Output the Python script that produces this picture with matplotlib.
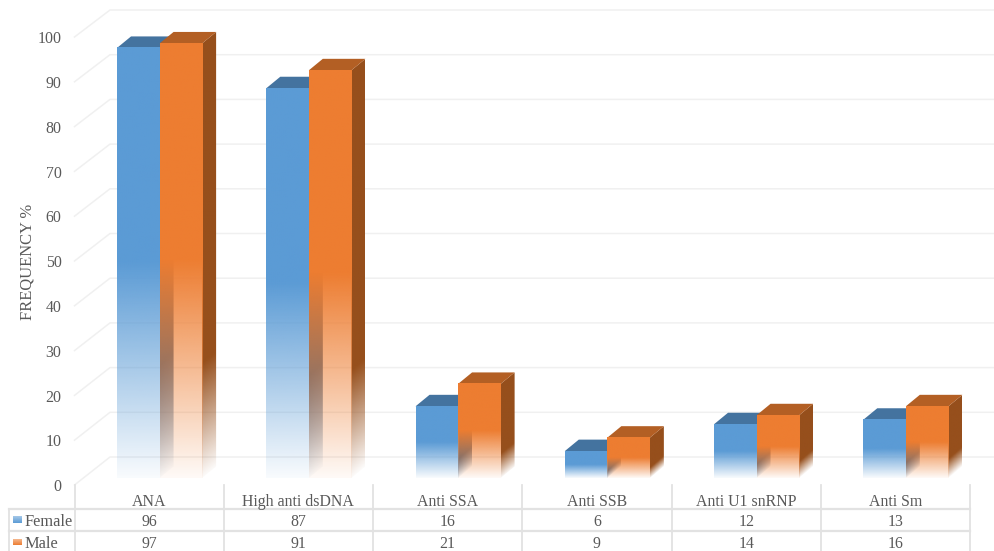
#!/usr/bin/env python3
"""Autoantibody frequency by sex: pseudo-3D columns with a data table below."""

import numpy as np
import matplotlib
matplotlib.use("Agg")
import matplotlib.pyplot as plt
from matplotlib.colors import to_rgb
from matplotlib.patches import Polygon

categories = ["ANA", "High anti dsDNA", "Anti SSA", "Anti SSB", "Anti U1 snRNP", "Anti Sm"]
female = [96, 87, 16, 6, 12, 13]
male = [97, 91, 21, 9, 14, 16]
y_ticks = [0, 10, 20, 30, 40, 50, 60, 70, 80, 90, 100]

W, H = 994, 551
CAT_LEFT, CAT_RIGHT = 74.5, 970.0
CAT_W = (CAT_RIGHT - CAT_LEFT) / len(categories)
BAR_BASE = 478.0          # pixel row of value 0 on the column plane
BAR_SCALE = 4.48          # pixels per percent on the column plane
BAR_OFFSET = 0.285        # gap before the first column, in category widths
BAR_W = 0.285
DEPTH_X, DEPTH_Y = 14.0, 11.5

GRID = "#f0f0f0"
TABLE = "#e2e2e2"
TEXT = "#595959"
SERIES = {
    "female": {"front": "#5b9bd5", "side": "#3d6a94", "top": "#44739f"},
    "male": {"front": "#ed7d31", "side": "#964f1c", "top": "#b35f24"},
}

plt.rcParams["font.family"] = ["Liberation Serif", "DejaVu Serif"]
plt.rcParams["font.size"] = 11.4

fig = plt.figure(figsize=(W / 100, H / 100), dpi=100)

# furniture layer, addressed in pixels
bg = fig.add_axes([0, 0, 1, 1])
bg.set_xlim(0, W)
bg.set_ylim(H, 0)
bg.axis("off")

for v in y_ticks:
    y_front = 485 - 4.48 * v
    y_back = 457 - 4.47 * v
    bg.plot([CAT_LEFT, 110, W], [y_front, y_back, y_back], color=GRID, lw=1.1, zorder=1)
    bg.text(61.5, y_front + 2.2, str(v), ha="right", va="center", color=TEXT)

bg.text(28, 262, "FREQUENCY %", rotation=90, ha="center", va="center", color=TEXT, fontsize=11.9)

# data table
for i in range(len(categories) + 1):
    x = CAT_LEFT + i * CAT_W
    bg.plot([x, x], [485, H], color=TABLE, lw=1.3, zorder=1)
bg.plot([8.5, 8.5], [509, H], color=TABLE, lw=1.3, zorder=1)
bg.plot([8.5, CAT_RIGHT], [509, 509], color=TABLE, lw=1.6, zorder=1)
bg.plot([8.5, CAT_RIGHT], [531, 531], color=TABLE, lw=1.6, zorder=1)

for i, name in enumerate(categories):
    x = CAT_LEFT + (i + 0.5) * CAT_W
    bg.text(x, 502, name, ha="center", va="center", color=TEXT)
    bg.text(x, 521.5, str(female[i]), ha="center", va="center", color=TEXT)
    bg.text(x, 543.5, str(male[i]), ha="center", va="center", color=TEXT)

# legend keys sit in the first table column
for top, bottom, key in [(516, 523, "female"), (539, 545, "male")]:
    shade = np.linspace(0.55, 1.0, 32)[:, None]
    key_img = np.ones((32, 1, 4))
    key_img[..., :3] = to_rgb(SERIES[key]["front"])
    key_img[..., 3] = shade
    bg.imshow(key_img, extent=[13, 21.5, top, bottom], origin="lower", aspect="auto", zorder=2)
bg.set_xlim(0, W)
bg.set_ylim(H, 0)
bg.text(24.5, 521.5, "Female", ha="left", va="center", color=TEXT, fontsize=11.8)
bg.text(24.5, 543.5, "Male", ha="left", va="center", color=TEXT, fontsize=11.8)

# column layer, addressed in categories and percent
ax = fig.add_axes([CAT_LEFT / W, 1 - BAR_BASE / H, (CAT_RIGHT - CAT_LEFT) / W, 105 * BAR_SCALE / H])
ax.patch.set_alpha(0)
ax.axis("off")

dx = DEPTH_X / CAT_W
dy = DEPTH_Y / BAR_SCALE


def fade_front(frac):
    # solid over the upper half, fading out towards the floor
    return np.clip(0.04 + 0.96 * frac / 0.5, 0, 1)


def fade_side(frac):
    return np.clip(0.03 + frac / 0.27, 0, 1)


def rgba_image(color, alpha):
    out = np.ones(alpha.shape + (4,))
    out[..., :3] = to_rgb(color)
    out[..., 3] = alpha
    return out


def draw_column(x0, value, colors, z):
    x1 = x0 + BAR_W

    # side face: fade follows the slanted floor edge
    rows = np.linspace(0, value + dy, 256)
    cols = np.linspace(0, 1, 24)
    uu, yy = np.meshgrid(cols, rows)
    side = ax.imshow(rgba_image(colors["side"], fade_side((yy - uu * dy) / value)),
                     extent=[x1, x1 + dx, 0, value + dy], origin="lower",
                     aspect="auto", interpolation="bilinear", zorder=z)
    clip = Polygon([(x1, 0), (x1 + dx, dy), (x1 + dx, value + dy), (x1, value)],
                   transform=ax.transData)
    side.set_clip_path(clip)

    ax.add_patch(Polygon([(x0, value), (x0 + dx, value + dy), (x1 + dx, value + dy), (x1, value)],
                         facecolor=colors["top"], edgecolor="none", zorder=z + 0.1))

    frac = np.linspace(0, 1, 256)[:, None]
    ax.imshow(rgba_image(colors["front"], fade_front(frac)),
              extent=[x0, x1, 0, value], origin="lower",
              aspect="auto", interpolation="bilinear", zorder=z + 0.2)


for i in range(len(categories)):
    draw_column(i + BAR_OFFSET, female[i], SERIES["female"], 2)
    draw_column(i + BAR_OFFSET + BAR_W, male[i], SERIES["male"], 3)

ax.set_xlim(0, len(categories))
ax.set_ylim(0, 105)

fig.savefig("out.png", dpi=100)
plt.close(fig)
